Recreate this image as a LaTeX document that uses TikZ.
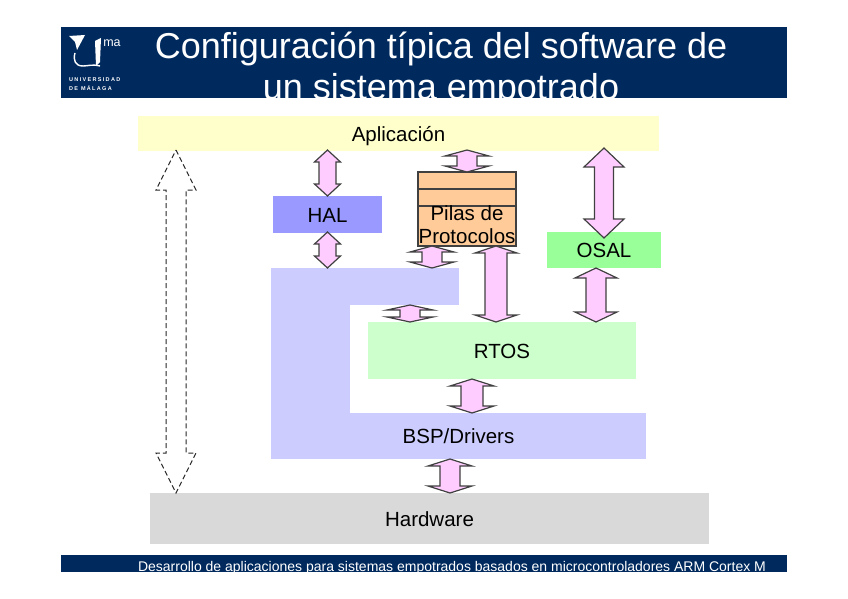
\documentclass[tikz,border=0pt]{standalone}
\usepackage{fontspec}
\setmainfont{Liberation Sans}
\usetikzlibrary{positioning,calc}

\definecolor{navy}{HTML}{002A5E}
\definecolor{appcol}{HTML}{FFFFCC}
\definecolor{halcol}{HTML}{9999FF}
\definecolor{pilacol}{HTML}{FFCC99}
\definecolor{osalcol}{HTML}{99FF99}
\definecolor{rtoscol}{HTML}{CCFFCC}
\definecolor{bspcol}{HTML}{CCCCFF}
\definecolor{hwcol}{HTML}{D9D9D9}
\definecolor{pinkcol}{HTML}{FFCCFF}

\tikzset{
    plain/.style={rectangle,inner sep=0pt,outer sep=0pt,font=\fontsize{20.5}{23}\selectfont},
    layer/.style={plain,text height=15pt,text depth=0pt},
    pila/.style={plain,draw=black!75,line width=1.1pt,fill=pilacol,minimum width=98pt},
    logotxt/.style={text=white,inner sep=0pt,anchor=west,font=\fontsize{5.5}{7}\bfseries\addfontfeature{LetterSpace=24}\selectfont},
    fatarrow/.style n args={3}{
        to path={
            let \p1=(\tikztostart),\p2=(\tikztotarget) in
            -- (\x1+#1,\y1-#3) -- (\x1+#2,\y1-#3) -- (\x1+#2,\y2+#3) -- (\x1+#1,\y2+#3)
            -- (\x2,\y2)
            -- (\x1-#1,\y2+#3) -- (\x1-#2,\y2+#3) -- (\x1-#2,\y1-#3) -- (\x1-#1,\y1-#3)
            -- cycle
        }
    },
    link/.style={draw=black!75,fill=pinkcol,line width=1.2pt,line join=miter,fatarrow={#1}},
}

\begin{document}
\begin{tikzpicture}[x=1pt,y=-1pt]
    \useasboundingbox (0,0) rectangle (848,599);

    \fill[navy] (61,27) rectangle (787,98);
    \fill[navy] (61,555) rectangle (787,572);

    \begin{scope}
        \clip (61,27) rectangle (787,98);
        \node[anchor=north,align=center,text=white,font=\fontsize{36}{41.5}\selectfont] (title) at (441,28)
            {Configuración típica del software de\\un sistema empotrado};
    \end{scope}

    \fill[white] (69,36) -- (85,35) -- (77,50) -- (75,42) -- cycle;
    \fill[white] (95,41) -- (101,38) -- (100,62) -- (96,66) -- cycle;
    \draw[white,line width=1.4pt] (75,53) .. controls (73,60) and (75,66) .. (83,66)
        .. controls (88,66) and (92,64) .. (100,66);
    \node[text=white,font=\fontsize{12.5}{14}\selectfont,inner sep=0pt] (ma) at (112,43) {ma};
    \node[logotxt] (uni) at (69,80) {UNIVERSIDAD};
    \node[logotxt] (mal) at (69,88) {DE MÁLAGA};

    \begin{scope}
        \clip (61,555) rectangle (787,572);
        \node[anchor=base,text=white,font=\fontsize{14}{16}\selectfont,inner sep=0pt] (foot) at (452,571)
            {Desarrollo de aplicaciones para sistemas empotrados basados en microcontroladores ARM Cortex M};
    \end{scope}

    \node[layer,anchor=north west,fill=appcol,minimum width=521pt,minimum height=35pt] (app) at (138,116) {Aplicación};
    \node[layer,anchor=north west,fill=hwcol,minimum width=559pt,minimum height=51pt] (hw) at (150,493) {Hardware};

    \node[layer,fill=halcol,minimum width=109pt,minimum height=37pt,below right=45pt and 135pt of app.south west] (hal) {HAL};
    \node[layer,fill=osalcol,minimum width=114pt,minimum height=36pt,below right=81pt and 409pt of app.south west] (osal) {OSAL};
    \node[pila,minimum height=17pt,below right=21pt and 280pt of app.south west] (pilaA) {};
    \node[pila,minimum height=17pt,below=0pt of pilaA] (pilaB) {};
    \node[pila,minimum height=40pt,below=0pt of pilaB] (pilaC) {};
    \node[plain,align=center] (pilatxt) at ([yshift=1pt]pilaC) {Pilas de\\Protocolos};

    \node[layer,fill=bspcol,minimum width=375pt,minimum height=46pt,above right=34pt and 121pt of hw.north west] (bsp) {BSP/Drivers};
    \node[layer,fill=bspcol,minimum width=79pt,minimum height=145pt,above right=0pt and 0pt of bsp.north west] (bspv) {};
    \node[layer,fill=bspcol,minimum width=109pt,minimum height=37pt,below right=0pt and 0pt of bspv.north east] (bsph) {};
    \node[layer,fill=rtoscol,minimum width=268pt,minimum height=57pt,above right=34pt and 97pt of bsp.north west] (rtos) {RTOS};

    \coordinate (sidex) at (176,300);

    \draw[draw=black!85,dash pattern=on 5pt off 3pt,line width=1pt,fatarrow={20pt}{10pt}{40pt}] ([yshift=1pt]app.south -| sidex) to (hw.north -| sidex);

    \draw[link={13pt}{8.5pt}{12pt}] ([yshift=1pt]app.south -| hal.north) to (hal.north);
    \draw[link={13pt}{8.5pt}{12pt}] ([yshift=1pt]hal.south) to (hal.south |- bspv.north);
    \draw[link={22pt}{10pt}{6pt}] ([yshift=1pt]app.south -| pilaA.north) to (pilaA.north);
    \draw[link={22pt}{10pt}{6pt}] ([xshift=-35pt]pilaC.south) to ([xshift=-35pt]pilaC.south |- bsph.north);
    \draw[link={23pt}{10pt}{5pt}] ([xshift=5.5pt]bsph.south) to ([xshift=5.5pt]bsph.south |- rtos.north);
    \draw[link={21pt}{11pt}{7pt}] ([xshift=29pt]pilaC.south) to ([xshift=29pt]pilaC.south |- rtos.north);
    \draw[link={20pt}{9.5pt}{19pt}] ([yshift=3pt]app.south -| osal.north) to ([yshift=-6pt]osal.north);
    \draw[link={21pt}{10pt}{10pt}] ([xshift=-8pt]osal.south) to ([xshift=-8pt]osal.south |- rtos.north);
    \draw[link={22pt}{11pt}{7pt}] ([xshift=-30pt]rtos.south) to ([xshift=-30pt]rtos.south |- bsp.north);
    \draw[link={22pt}{10pt}{7pt}] ([xshift=-8.5pt]bsp.south) to ([xshift=-8.5pt]bsp.south |- hw.north);
\end{tikzpicture}
\end{document}
